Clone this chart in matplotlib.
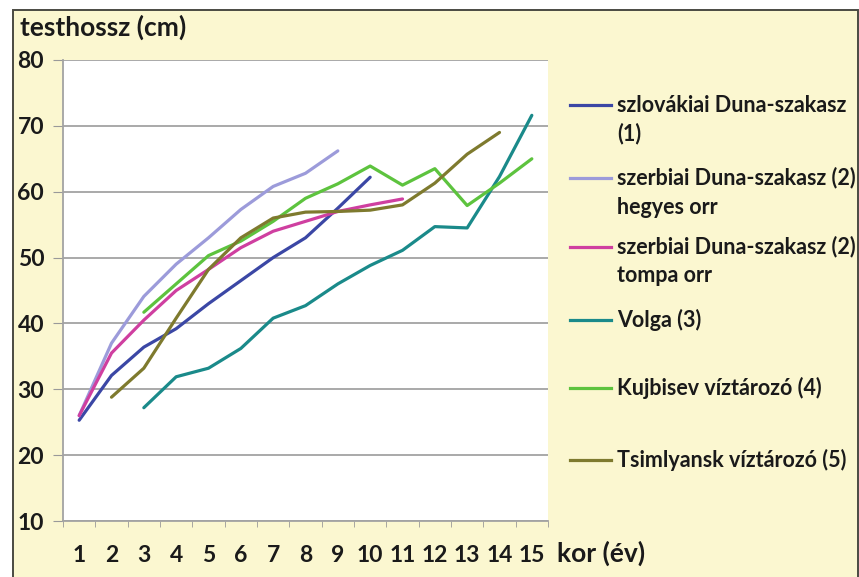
import matplotlib
matplotlib.use("Agg")
import matplotlib.pyplot as plt
from matplotlib.lines import Line2D
from matplotlib.patches import Rectangle

plt.rcParams['font.family'] = ['Lato', 'DejaVu Sans']

ages = list(range(1, 16))
x_labels = [str(a) for a in ages]

slovak_x = [1, 2, 3, 4, 5, 6, 7, 8, 9, 10]
slovak_y = [25.3, 32.1, 36.4, 39.2, 43.0, 46.5, 50.0, 53.0, 57.5, 62.2]

serb_hegyes_x = [1, 2, 3, 4, 5, 6, 7, 8, 9]
serb_hegyes_y = [26.0, 37.0, 44.1, 49.0, 53.0, 57.3, 60.8, 62.8, 66.2]

serb_tompa_x = [1, 2, 3, 4, 5, 6, 7, 8, 9, 10, 11]
serb_tompa_y = [26.0, 35.5, 40.5, 45.0, 48.2, 51.5, 54.0, 55.5, 57.0, 58.0, 58.9]

volga_x = [3, 4, 5, 6, 7, 8, 9, 10, 11, 12, 13, 14, 15]
volga_y = [27.2, 31.9, 33.2, 36.2, 40.8, 42.7, 46.0, 48.8, 51.1, 54.7, 54.5, 62.3, 71.6]

kujbisev_x = [3, 4, 5, 6, 7, 8, 9, 10, 11, 12, 13, 14, 15]
kujbisev_y = [41.7, 46.0, 50.3, 52.5, 55.5, 59.0, 61.2, 63.9, 61.0, 63.5, 57.9, 61.3, 65.0]

tsim_x = [2, 3, 4, 5, 6, 7, 8, 9, 10, 11, 12, 13, 14]
tsim_y = [28.8, 33.2, 40.8, 48.2, 53.0, 56.0, 56.9, 57.0, 57.2, 58.0, 61.3, 65.7, 69.0]

series = [
    (slovak_x, slovak_y, "#3B47A5", "szlovákiai Duna-szakasz\n(1)"),
    (serb_hegyes_x, serb_hegyes_y, "#9C9BDA", "szerbiai Duna-szakasz (2)\nhegyes orr"),
    (serb_tompa_x, serb_tompa_y, "#CF3FA0", "szerbiai Duna-szakasz (2)\ntompa orr"),
    (volga_x, volga_y, "#1A8A8A", "Volga (3)"),
    (kujbisev_x, kujbisev_y, "#5DC33E", "Kujbisev víztározó (4)"),
    (tsim_x, tsim_y, "#7E7A2E", "Tsimlyansk víztározó (5)"),
]

bg = "#FBF7D0"
txt = "#1a1a1a"
fig = plt.figure(figsize=(8.59, 5.77), dpi=100, facecolor="white")
W, H = 859, 577

# yellow chart area with dark border (bottom edge runs off the image)
fig.patches.append(Rectangle((13 / W, 1 - 590 / H), 845 / W, 580 / H,
                             transform=fig.transFigure, facecolor=bg,
                             edgecolor="#4a4a42", linewidth=1.4, zorder=-10))

ax = fig.add_axes([63 / W, 1 - 521 / H, 485 / W, 461 / H])
ax.set_facecolor("white")

for xs, ys, col, lab in series:
    ax.plot(xs, ys, color=col, linewidth=2.3, solid_capstyle="round",
            solid_joinstyle="round")

ax.set_xlim(0.5, 15.5)
ax.set_ylim(10, 80)
ax.set_yticks(range(10, 81, 10))
ax.set_xticks(ages)
ax.set_xticklabels(x_labels)
ax.set_xticks([a + 0.5 for a in [0] + ages], minor=True)
ax.tick_params(axis='x', which='major', length=0, pad=17, labelsize=16.5)
ax.tick_params(axis='x', which='minor', length=4, color="#999999", direction='out')
ax.tick_params(axis='y', length=7, color="#999999", pad=6.5, labelsize=16.5)
for lbl in ax.get_xticklabels() + ax.get_yticklabels():
    lbl.set_fontweight('bold')
    lbl.set_color(txt)

ax.grid(axis='y', color="#A3A3A3", linewidth=1.3)
ax.set_axisbelow(True)
for s in ['top', 'right']:
    ax.spines[s].set_visible(False)
for s in ['left', 'bottom']:
    ax.spines[s].set_color("#A3A3A3")
    ax.spines[s].set_linewidth(1.3)

fig.text(20 / W, 1 - 27 / H, "testhossz (cm)", fontsize=19, fontweight='bold',
         color=txt, ha='left', va='center')
fig.text(557 / W, 1 - 553 / H, "kor (év)", fontsize=19, fontweight='bold',
         color=txt, ha='left', va='center')

# legend
entry_y = [105, 178, 247, 320, 388, 460]
for (xs, ys, col, lab), yy in zip(series, entry_y):
    fig.lines.append(Line2D([570 / W, 611 / W], [1 - yy / H, 1 - yy / H],
                            transform=fig.transFigure, color=col, linewidth=2.3))
    for i, line in enumerate(lab.split("\n")):
        fig.text(617 / W, 1 - (yy + i * 29) / H, line, fontsize=15.5,
                 fontweight='bold', color=txt, ha='left', va='center')

fig.savefig("out.png", dpi=100, facecolor="white")
